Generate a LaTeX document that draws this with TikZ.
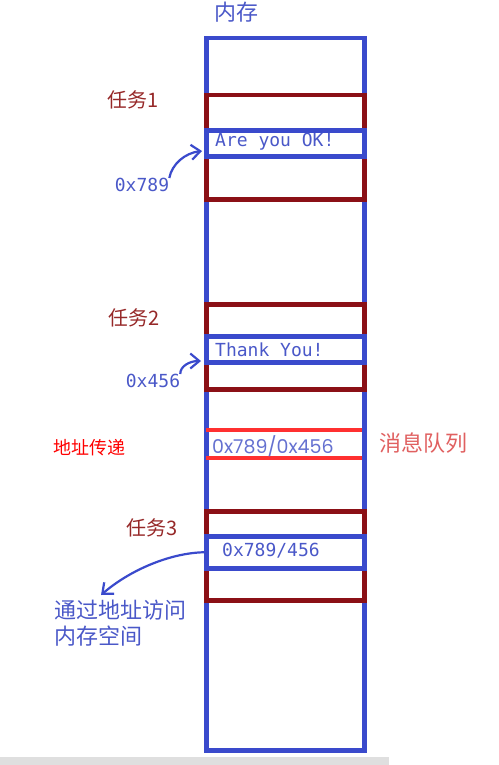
\documentclass[tikz,border=0pt]{standalone}
\usepackage{fontspec}
\setmainfont{Noto Sans CJK SC}
\newfontfamily\handfont{DejaVu Sans Mono}
\newfontfamily\qfont{Poppins}
\usetikzlibrary{positioning,arrows.meta}
\definecolor{memblue}{RGB}{58,74,204}
\definecolor{taskred}{RGB}{139,16,22}
\definecolor{qred}{RGB}{255,48,48}
\definecolor{lblred}{RGB}{150,40,40}
\definecolor{txtblue}{RGB}{74,88,200}
\definecolor{qlbl}{RGB}{224,96,96}
\begin{document}
\begin{tikzpicture}[x=1pt, y=-1pt, inner sep=0pt,
  mem/.style = {draw=memblue, line width=4.5pt, anchor=north west},
  task/.style = {draw=taskred, line width=4.5pt, anchor=north west},
  cjk/.style = {font=\fontsize{22}{26}\selectfont},
  tasklbl/.style = {font=\fontsize{20}{24}\selectfont, text=lblred},
  hand/.style = {font=\handfont\fontsize{18}{22}\selectfont, text=txtblue},
  pointer/.style = {draw=memblue, line width=2.2pt, -{Straight Barb[length=9pt, width=15pt]}}]
  \useasboundingbox (0,0) rectangle (498,765);
  \fill[gray!25] (0,757) rectangle (389,765);
  % memory column
  \node[mem, minimum width=158, minimum height=712] (mem) at (204,36) {};
  \node[cjk, text=txtblue] (memlbl) at (236,12) {内存};
  % task boxes
  \node[task, minimum width=158, minimum height=104] (t1) at (204,93) {};
  \node[task, minimum width=158, minimum height=85] (t2) at (204,302) {};
  \node[task, minimum width=158, minimum height=89] (t3) at (204,509) {};
  % message queue
  \coordinate (q1a) at (206,430);
  \coordinate (q1b) at (362,430);
  \coordinate (q2a) at (206,458);
  \coordinate (q2b) at (362,458);
  \draw[qred, line width=4.5pt] (q1a) -- (q1b);
  \draw[qred, line width=4.5pt] (q2a) -- (q2b);
  % memory blocks
  \node[mem, minimum width=158, minimum height=26] (b1) at (204,128) {};
  \node[mem, minimum width=158, minimum height=26] (b2) at (204,334) {};
  \node[mem, minimum width=158, minimum height=32] (b3) at (204,534) {};
  \node[hand, anchor=west] (msg1) at (215,142) {Are you OK!};
  \node[hand, anchor=west] (msg2) at (215,350) {Thank You!};
  \node[hand, anchor=west] (msg3) at (222,551) {0x789/456};
  \node[font=\qfont\fontsize{19}{22}\selectfont, text=txtblue!85, anchor=west] (qmsg) at (212,446) {0x789/0x456};
  % labels
  \node[tasklbl] (l1) at (133,100) {任务1};
  \node[tasklbl] (l2) at (134,318) {任务2};
  \node[tasklbl] (l3) at (152,528) {任务3};
  \node[hand] (a1) at (142,185) {0x789};
  \node[hand] (a2) at (153,381) {0x456};
  \node[font=\fontsize{18}{22}\selectfont, text=red] (pass) at (89,448) {地址传递};
  \node[cjk, text=qlbl] (queue) at (423,443) {消息队列};
  \node[cjk, text=txtblue, align=left, anchor=north west] (use) at (54,600) {通过地址访问\\内存空间};
  % pointers
  \coordinate (p1) at (202,151);
  \coordinate (p2) at (201,361);
  \coordinate (p3) at (101,595);
  \draw[pointer] (a1.north east) .. controls (172,164) and (185,153) .. (p1);
  \draw[pointer] (a2.north east) .. controls (180,366) and (190,361) .. (p2);
  \draw[pointer] (b3.west) .. controls (170,553) and (130,570) .. (p3);
\end{tikzpicture}
\end{document}
